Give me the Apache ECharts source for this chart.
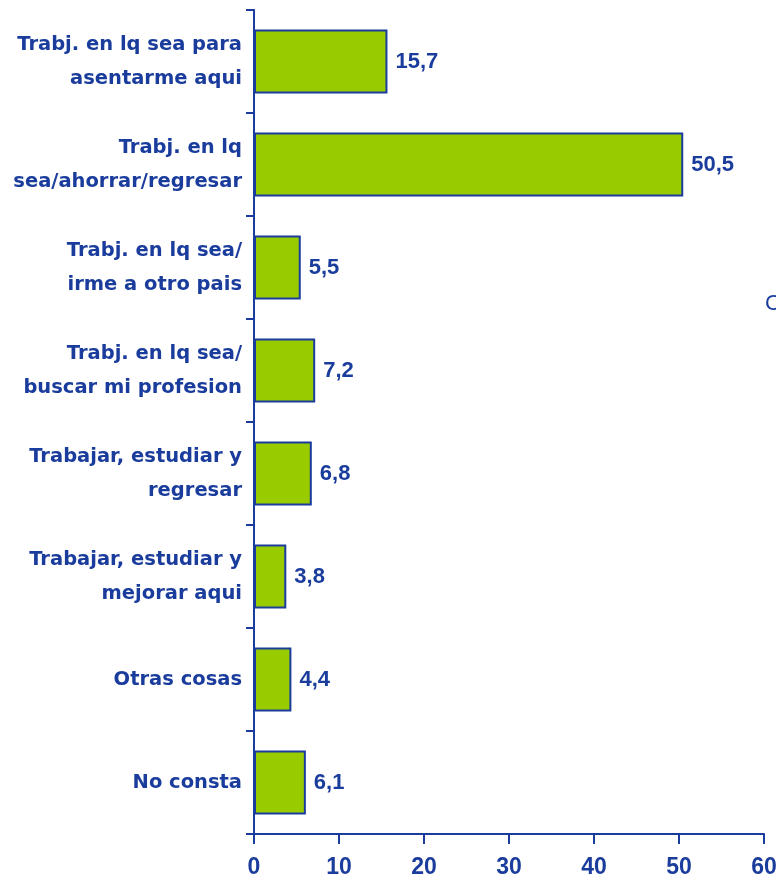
<!DOCTYPE html>
<html><head><meta charset="utf-8">
<script src="https://cdn.jsdelivr.net/npm/echarts@6/dist/echarts.min.js"></script>
<style>html,body{margin:0;padding:0;background:#fff}#c{width:776px;height:890px}</style>
</head><body><div id="c"></div>
<script>
const categories = [
  "Trabj. en lq sea para\nasentarme aqui",
  "Trabj. en lq\nsea/ahorrar/regresar",
  "Trabj. en lq sea/\nirme a otro pais",
  "Trabj. en lq sea/\nbuscar mi profesion",
  "Trabajar, estudiar y\nregresar",
  "Trabajar, estudiar y\nmejorar aqui",
  "Otras cosas",
  "No consta"
];
const values = [15.7, 50.5, 5.5, 7.2, 6.8, 3.8, 4.4, 6.1];
const xTicks = [0, 10, 20, 30, 40, 50, 60];

const blue = '#1a3c9c';
const numFont = "'Liberation Sans', Arial, sans-serif";
const chart = echarts.init(document.getElementById('c'));
chart.setOption({
  animation: false,
  grid: {left: 254, right: 12, top: 10, bottom: 56, containLabel: false, outerBoundsMode: 'none'},
  xAxis: {
    type: 'value', min: xTicks[0], max: xTicks[xTicks.length-1], interval: 10,
    axisLine: {show: true, lineStyle: {color: blue, width: 2}},
    axisTick: {show: true, length: 10, lineStyle: {color: blue, width: 2}},
    splitLine: {show: false},
    axisLabel: {color: blue, fontFamily: numFont, fontWeight: 'bold', fontSize: 23, margin: 22}
  },
  yAxis: {
    type: 'category', data: categories, inverse: true,
    axisLine: {show: true, lineStyle: {color: blue, width: 2}},
    axisTick: {show: true, length: 8, lineStyle: {color: blue, width: 2}},
    axisLabel: {color: blue, fontFamily: "'DejaVu Sans', sans-serif", fontWeight: 'bold', fontSize: 19.5, lineHeight: 34, margin: 12, align: 'right'}
  },
  series: [{
    type: 'bar', data: values, barWidth: 64,
    itemStyle: {color: '#99cc00', borderColor: blue, borderWidth: 2},
    label: {show: true, position: 'right', distance: 8, color: blue, fontFamily: numFont, fontWeight: 'bold', fontSize: 22,
      formatter: p => String(p.value).replace('.', ',')}
  }],
  graphic: [{type: 'text', left: 765, top: 293, style: {text: 'C', fill: blue, font: "22px " + numFont}}]
});
</script></body></html>
